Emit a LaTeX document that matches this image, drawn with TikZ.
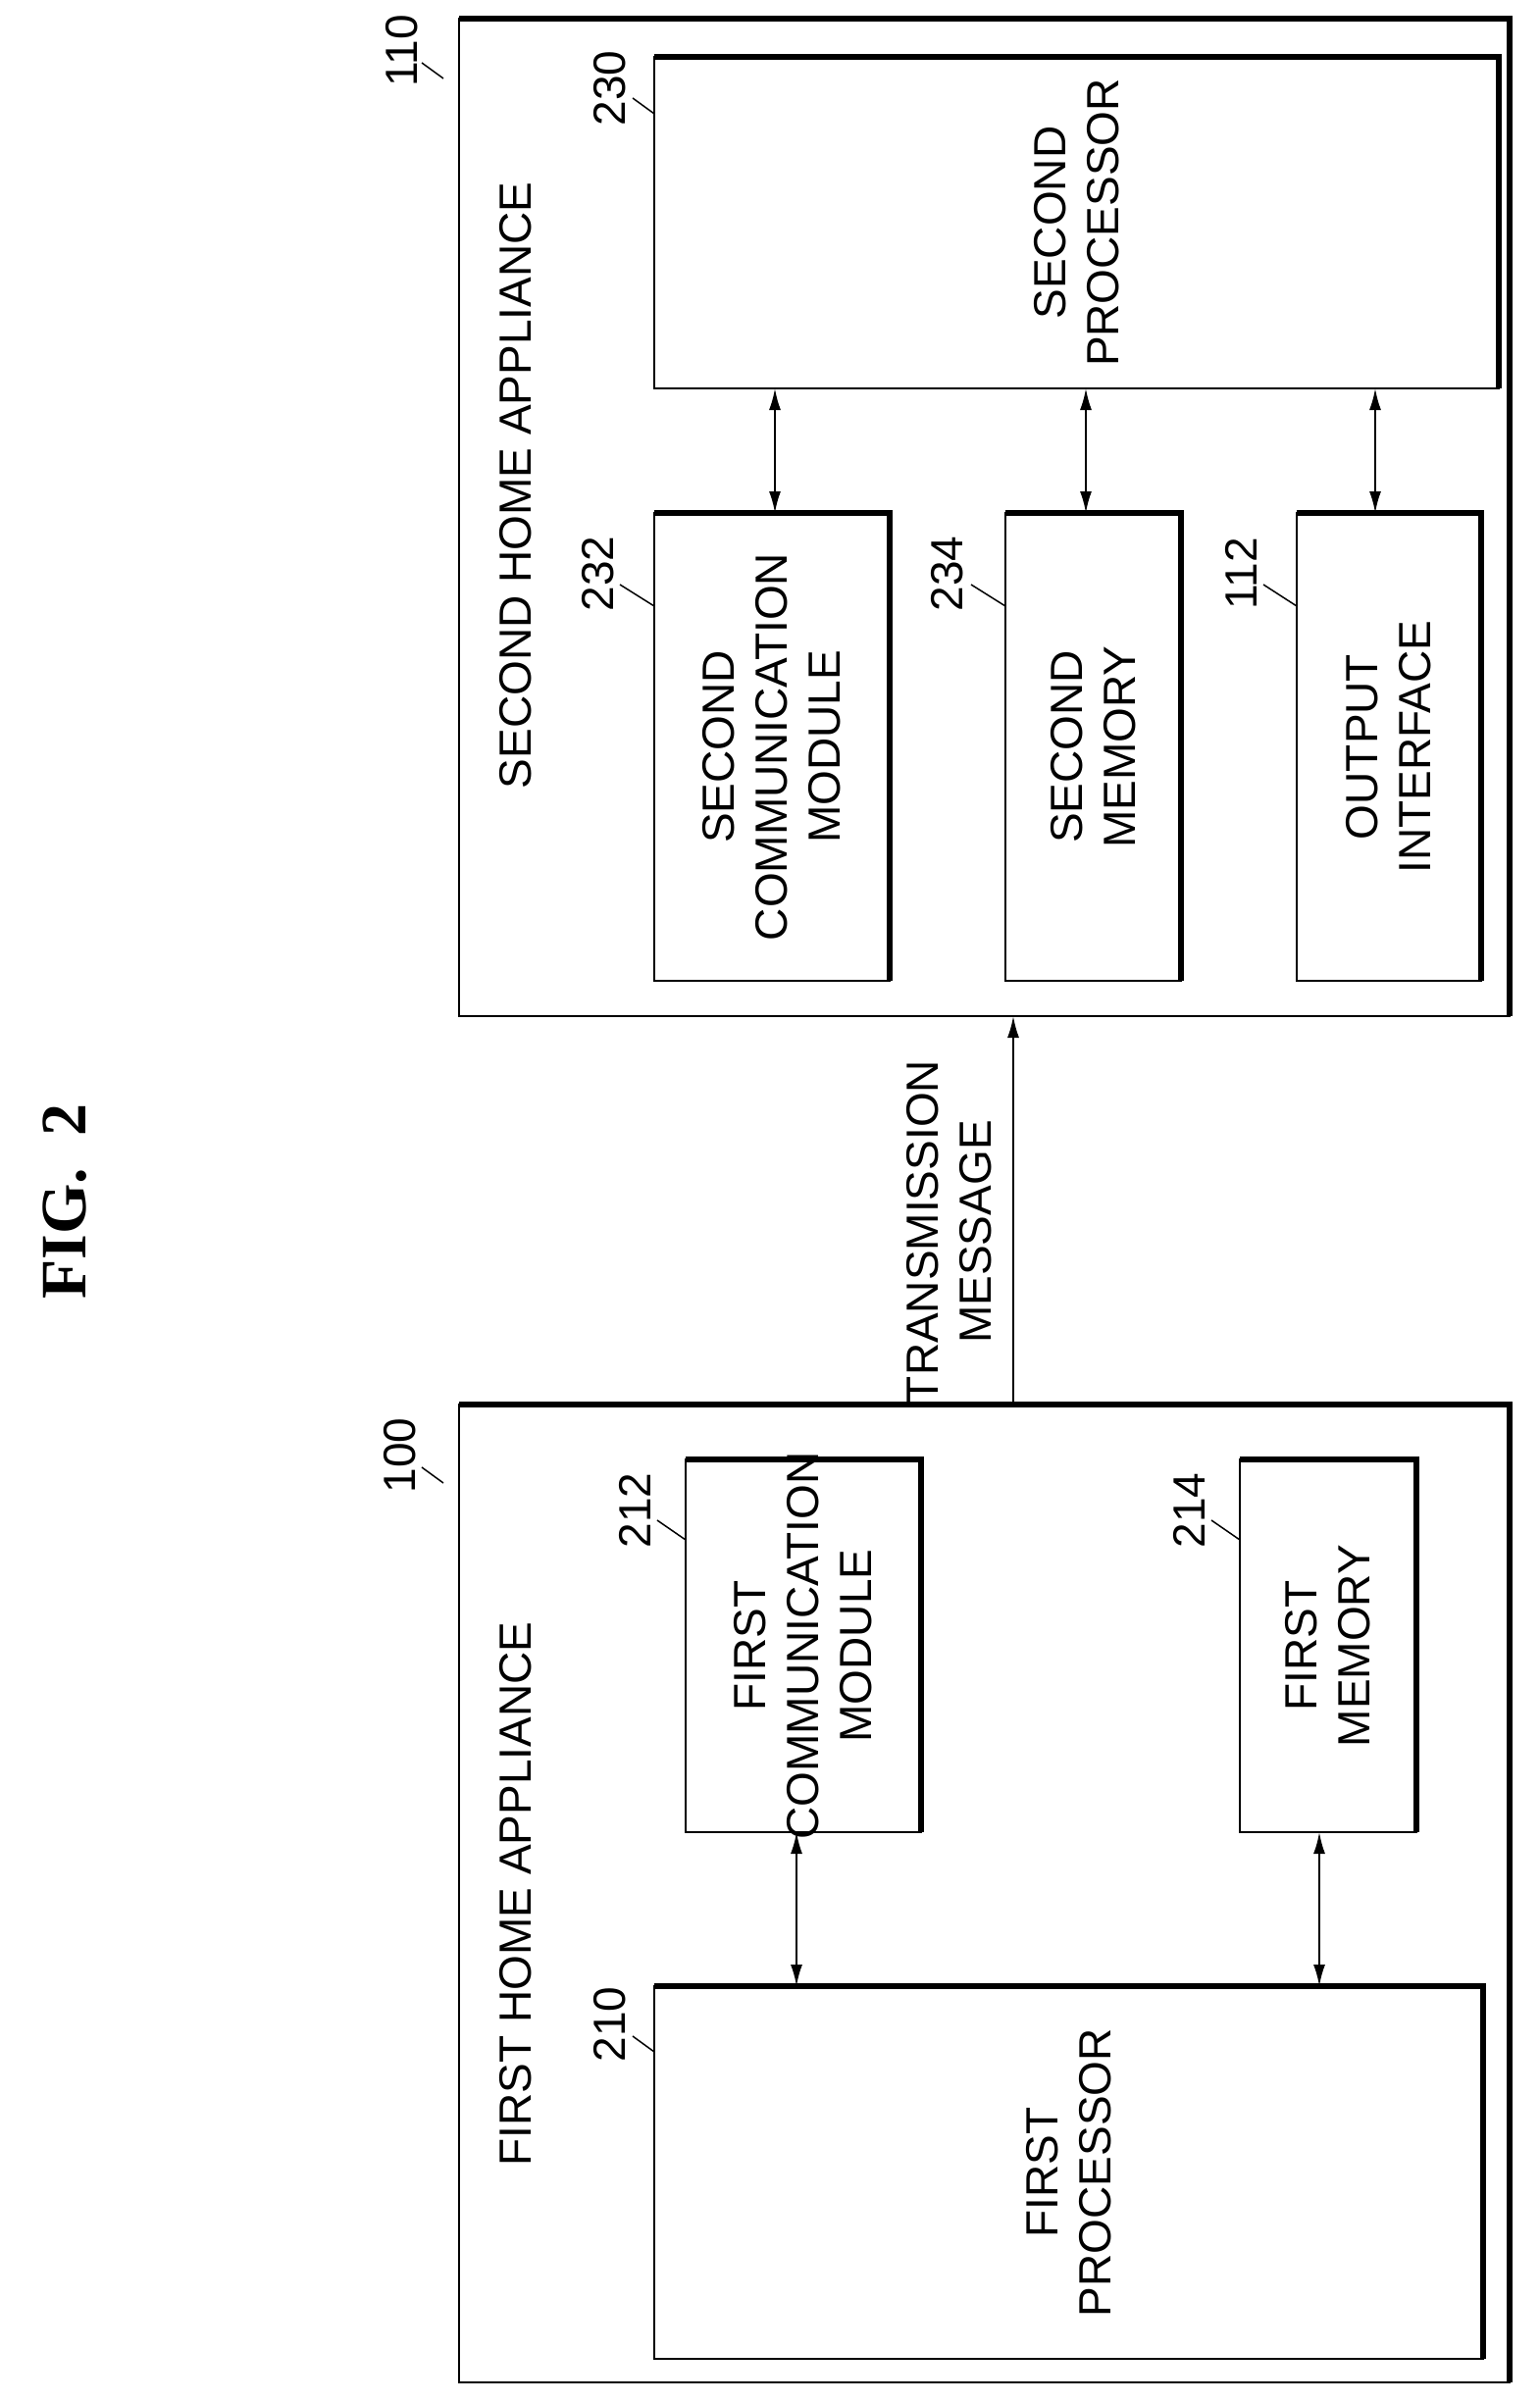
\documentclass[tikz,border=0pt]{standalone}
\usepackage{fontspec}
\setmainfont{Liberation Sans}
\newfontfamily\figfont{Liberation Serif}
\usetikzlibrary{arrows.meta}
\begin{document}
\begin{tikzpicture}[x=1pt,y=-1pt,
  txt/.style={rotate=90,align=center,font=\fontsize{46}{54}\selectfont,inner sep=0},
  lbl/.style={rotate=90,font=\fontsize{46}{54}\selectfont,inner sep=0},
  box/.style={draw,line width=2pt},
  arr/.style={line width=2pt,{Latex[length=22,width=12]}-{Latex[length=22,width=12]}}]
\useasboundingbox (0,0) rectangle (1570,2449);
\newcommand\shbox[5]{% name x1 y1 x2 y2
  \draw[box] (#2,#3) rectangle (#4,#5);
  \draw[line width=6pt] (#2,#3) -- (#4,#3) -- (#4,#5);
  \coordinate (#1) at ({(#2+#4)/2},{(#3+#5)/2});
}
% Second appliance
\draw[line width=2pt] (468,19) rectangle (1539,1036);
\draw[line width=6pt] (468,19) -- (1539,19) -- (1539,1036);
\shbox{b230}{667}{58}{1528}{396}
\shbox{b232}{667}{523}{907}{1000}
\shbox{b234}{1025}{523}{1204}{1000}
\shbox{b112}{1322}{523}{1510}{1000}
\node[txt] (t230) at (b230) {SECOND\\PROCESSOR};
\node[txt] (t232) at (b232) {SECOND\\COMMUNICATION\\MODULE};
\node[txt] (t234) at (b234) {SECOND\\MEMORY};
\node[txt] (t112) at (b112) {OUTPUT\\INTERFACE};
\node[txt] (t110) at (526,495) {SECOND HOME APPLIANCE};
\coordinate (a1t) at (790,396); \coordinate (a1b) at (790,523);
\coordinate (a2t) at (1107,396); \coordinate (a2b) at (1107,523);
\coordinate (a3t) at (1402,396); \coordinate (a3b) at (1402,523);
\draw[arr] (a1t) -- (a1b);
\draw[arr] (a2t) -- (a2b);
\draw[arr] (a3t) -- (a3b);
% First appliance
\draw[line width=2pt] (468,1432) rectangle (1539,2429);
\draw[line width=6pt] (468,1432) -- (1539,1432) -- (1539,2429);
\shbox{b212}{699}{1488}{939}{1868}
\shbox{b214}{1264}{1488}{1444}{1868}
\shbox{b210}{667}{2025}{1512}{2405}
\node[txt] (t212) at (b212) {FIRST\\COMMUNICATION\\MODULE};
\node[txt] (t214) at (b214) {FIRST\\MEMORY};
\node[txt] (t210) at (b210) {FIRST\\PROCESSOR};
\node[txt] (t100) at (526,1931) {FIRST HOME APPLIANCE};
\coordinate (c1t) at (812,1868); \coordinate (c1b) at (812,2025);
\coordinate (c2t) at (1345,1868); \coordinate (c2b) at (1345,2025);
\draw[arr] (c1t) -- (c1b);
\draw[arr] (c2t) -- (c2b);
% transmission
\coordinate (m1) at (1033,1432); \coordinate (m2) at (1033,1036);
\draw[line width=2pt,-{Latex[length=22,width=12]}] (m1) -- (m2);
\node[txt] (tm) at (968,1256) {TRANSMISSION\\MESSAGE};
% figure title
\node[rotate=90,font=\figfont\bfseries\fontsize{66}{72}\selectfont,inner sep=0] (fig) at (66,1225) {FIG.\ \ 2};
% reference numbers
\node[lbl] (n110) at (410,52) {110};
\draw[line width=1.5pt] (430,64) -- (452,80);
\node[lbl] (n230) at (622,90) {230};
\draw[line width=1.5pt] (645,100) -- (667,116);
\node[lbl] (n232) at (610,585) {232};
\draw[line width=1.5pt] (632,596) -- (667,618);
\node[lbl] (n234) at (966,585) {234};
\draw[line width=1.5pt] (990,596) -- (1025,618);
\node[lbl] (n112) at (1265,585) {112};
\draw[line width=1.5pt] (1288,596) -- (1322,618);
\node[lbl] (n100) at (408,1484) {100};
\draw[line width=1.5pt] (430,1496) -- (452,1512);
\node[lbl] (n212) at (647,1540) {212};
\draw[line width=1.5pt] (670,1550) -- (699,1570);
\node[lbl] (n214) at (1212,1540) {214};
\draw[line width=1.5pt] (1235,1550) -- (1264,1570);
\node[lbl] (n210) at (622,2064) {210};
\draw[line width=1.5pt] (645,2076) -- (667,2092);
\end{tikzpicture}
\end{document}
